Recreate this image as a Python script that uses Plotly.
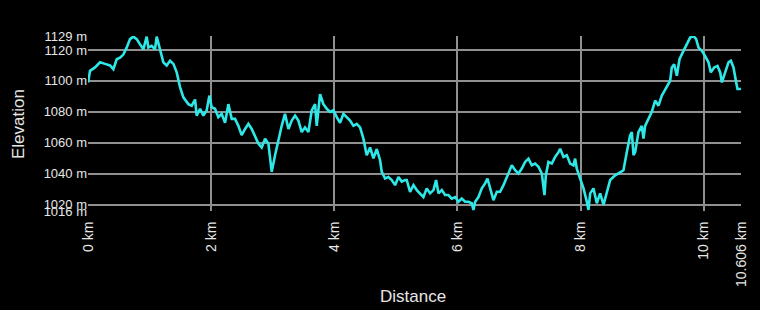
import plotly.graph_objects as go

dist_km = [
    0.000, 0.033, 0.114, 0.195, 0.276, 0.357, 0.412, 0.466, 0.520, 0.574, 0.628, 0.682, 0.736, 0.791,
    0.845, 0.899, 0.953, 0.980, 1.034, 1.088, 1.116, 1.170, 1.224, 1.278, 1.332, 1.387, 1.441, 1.495,
    1.549, 1.630, 1.684, 1.739,
    1.765, 1.820, 1.874, 1.928, 1.971, 2.009, 2.063, 2.117, 2.171, 2.226, 2.280, 2.334, 2.388, 2.442,
    2.496, 2.551, 2.605, 2.659, 2.713, 2.767, 2.821, 2.876, 2.930, 2.957, 2.984, 3.038, 3.092, 3.146,
    3.200, 3.255, 3.309, 3.363, 3.417,
    3.471, 3.525, 3.580, 3.634, 3.688, 3.715, 3.742, 3.769, 3.823, 3.878, 3.932, 3.986, 4.040, 4.094,
    4.148, 4.202, 4.257, 4.311, 4.365, 4.419, 4.473, 4.527, 4.582, 4.636, 4.690, 4.744, 4.771, 4.825,
    4.879, 4.934, 4.988, 5.042, 5.096, 5.150,
    5.177, 5.231, 5.286, 5.340, 5.394, 5.448, 5.502, 5.556, 5.611, 5.654, 5.692, 5.746, 5.800, 5.854,
    5.908, 5.963, 6.017, 6.071, 6.125, 6.179, 6.233, 6.260, 6.288, 6.342, 6.396, 6.450, 6.488, 6.531,
    6.585, 6.640, 6.694, 6.748, 6.802, 6.845,
    6.883, 6.937, 6.992, 7.046, 7.100, 7.154, 7.208, 7.262, 7.317, 7.371, 7.398, 7.414, 7.436, 7.479,
    7.533, 7.587, 7.642, 7.669, 7.723, 7.777, 7.831, 7.885, 7.912, 7.939, 7.993, 8.048, 8.102, 8.129,
    8.156, 8.210, 8.264, 8.318, 8.373, 8.427, 8.481, 8.562, 8.643,
    8.697, 8.751, 8.805, 8.833, 8.860, 8.887, 8.941, 8.995, 9.022, 9.049, 9.103, 9.157, 9.212, 9.266,
    9.320, 9.401, 9.455, 9.482, 9.520, 9.564, 9.607, 9.672, 9.726, 9.780, 9.834, 9.878, 9.916, 9.970,
    10.024, 10.078, 10.116, 10.170, 10.224, 10.268, 10.295, 10.349, 10.403, 10.441, 10.484, 10.528,
    10.549, 10.592, 10.606,
]

elev_m = [
    1099.0, 1106.5, 1108.7, 1112.0, 1111.0, 1110.0, 1107.6, 1114.0, 1115.0, 1117.0, 1121.5, 1127.0, 1128.6, 1127.0,
    1123.6, 1120.4, 1128.6, 1121.5, 1122.6, 1120.4, 1128.6, 1120.4, 1112.0, 1110.0, 1113.0, 1111.0, 1105.5, 1096.0,
    1089.4, 1085.0, 1084.0, 1088.0,
    1077.6, 1082.0, 1077.6, 1081.0, 1090.5, 1083.0, 1082.0, 1076.6, 1078.7, 1073.0, 1085.0, 1075.5, 1075.5, 1071.0,
    1065.0, 1069.0, 1072.3, 1069.0, 1063.7, 1059.5, 1057.0, 1062.7, 1059.5, 1052.0, 1041.3, 1052.0, 1062.7, 1071.0,
    1078.7, 1069.0, 1074.4, 1077.6, 1074.4,
    1067.0, 1070.0, 1067.0, 1081.0, 1085.0, 1071.0, 1082.0, 1091.5, 1085.0, 1082.0, 1080.0, 1081.0, 1076.6, 1073.0,
    1078.7, 1076.6, 1074.4, 1071.0, 1072.3, 1070.0, 1062.7, 1052.0, 1057.0, 1050.0, 1056.0, 1048.8, 1041.3, 1037.0,
    1038.0, 1036.0, 1032.7, 1038.0, 1035.0, 1036.0,
    1036.0, 1028.4, 1032.7, 1029.5, 1027.4, 1025.0, 1030.6, 1027.4, 1029.5, 1036.0, 1027.4, 1029.5, 1026.3, 1026.3,
    1024.0, 1025.0, 1022.0, 1024.0, 1022.0, 1022.0, 1021.0, 1016.7, 1022.0, 1025.0, 1030.6, 1033.8, 1037.0, 1030.6,
    1023.0, 1028.4, 1028.4, 1032.7, 1038.0, 1041.3,
    1045.5, 1042.3, 1040.2, 1043.4, 1047.7, 1049.8, 1045.5, 1046.6, 1044.5, 1040.2, 1028.4, 1026.3, 1039.0, 1047.7,
    1046.6, 1050.9, 1054.0, 1056.2, 1050.9, 1052.0, 1046.6, 1045.5, 1049.8, 1043.4, 1037.0, 1030.6, 1022.0, 1016.7,
    1027.4, 1030.6, 1021.0, 1027.4, 1020.0, 1028.4, 1036.0, 1039.0, 1041.3,
    1042.3, 1054.0, 1064.8, 1067.0, 1052.0, 1054.0, 1067.0, 1071.0, 1062.7, 1071.0, 1075.5, 1080.0, 1087.3, 1084.0,
    1090.5, 1095.8, 1100.0, 1108.7, 1110.8, 1103.3, 1114.0, 1119.4, 1123.6, 1128.0, 1129.0, 1127.0, 1121.5, 1119.4,
    1116.0, 1112.0, 1105.5, 1108.7, 1109.7, 1105.5, 1099.0, 1105.5, 1112.0, 1113.0, 1108.7, 1099.0,
    1094.8, 1094.8, 1095.0,
]

y_ticks = [1016, 1020, 1040, 1060, 1080, 1100, 1120, 1129]
y_tick_labels = [f"{v} m" for v in y_ticks]
x_ticks = [0, 2, 4, 6, 8, 10, 10.606]
x_tick_labels = ["0 km", "2 km", "4 km", "6 km", "8 km", "10 km", "10.606 km"]

FONT = "Liberation Sans, Arial, sans-serif"
TXT = "#e6e6e6"
GRID = "#909090"

fig = go.Figure()
fig.add_trace(go.Scatter(
    x=dist_km, y=elev_m, mode="lines",
    line=dict(color="#2ee8e8", width=2.6),
    hoverinfo="skip", showlegend=False,
))

fig.update_layout(
    width=760, height=310,
    margin=dict(l=88, r=19, t=36, b=99),
    paper_bgcolor="black", plot_bgcolor="black",
    font=dict(family=FONT, color=TXT, size=13),
    xaxis=dict(
        range=[0, 10.606], tickvals=x_ticks, ticktext=x_tick_labels,
        tickangle=-90, showgrid=True, gridcolor=GRID, gridwidth=1.6,
        zeroline=False, showline=False, ticks="outside", ticklen=4, tickcolor="black",
        tickfont=dict(family=FONT, size=14, color=TXT),
    ),
    yaxis=dict(
        range=[1016, 1129], tickvals=y_ticks, ticktext=y_tick_labels,
        showgrid=True, gridcolor=GRID, gridwidth=1.6,
        zeroline=False, showline=False, ticks="",
        tickfont=dict(family=FONT, size=13, color=TXT),
    ),
    annotations=[
        dict(text="Elevation", x=18, y=124, xref="paper", yref="paper", showarrow=False,
             textangle=-90, font=dict(family=FONT, size=17, color=TXT),
             xanchor="center", yanchor="middle"),
        dict(text="Distance", x=413, y=296, xref="paper", yref="paper", showarrow=False,
             font=dict(family=FONT, size=17, color=TXT), xanchor="center", yanchor="middle"),
    ],
)

# convert pixel-based annotation positions to paper coordinates
pw = 760 - 88 - 19
ph = 310 - 36 - 99
for a in fig.layout.annotations:
    a.x = (a.x - 88) / pw
    a.y = 1 - (a.y - 36) / ph

fig.write_html("out.html")
